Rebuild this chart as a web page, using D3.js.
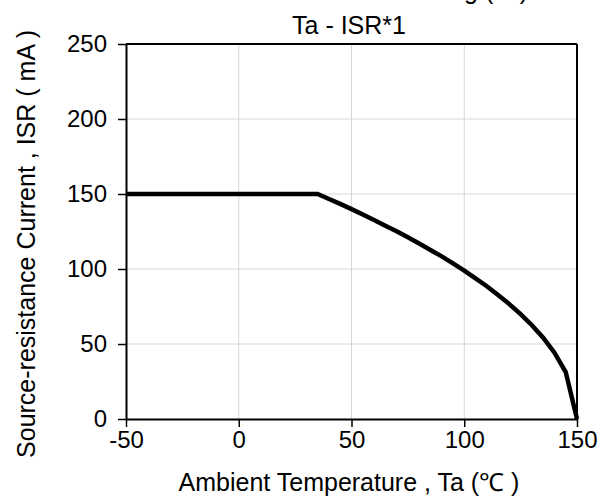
<!DOCTYPE html>
<html>
<head>
<meta charset="utf-8">
<script src="https://cdn.jsdelivr.net/npm/d3@7"></script>
<style>
  body { margin: 0; background: #fff; }
  svg { display: block; font-family: "Liberation Sans", Arial, sans-serif; }
</style>
</head>
<body>
<div id="app"></div>
<script>
// data
var temps = [-50, 35, 40, 45, 50, 55, 60, 65, 70, 75, 80, 85, 90, 95, 100, 105, 110, 115, 120, 125, 130, 135, 140, 145, 150];
var isr = [150, 150, 146.7, 143.4, 139.9, 136.3, 132.7, 128.9, 125.1, 121.1, 117, 112.7, 108.4, 103.7, 98.9, 93.8, 88.5, 82.7, 76.6, 69.9, 62.5, 54.2, 44.2, 31.3, 0];
var xTicks = [-50, 0, 50, 100, 150];
var yTicks = [0, 50, 100, 150, 200, 250];

var width = 614, height = 500;
var margin = {top: 44, right: 37, bottom: 81, left: 126};
var w = width - margin.left - margin.right;
var h = height - margin.top - margin.bottom;

var svg = d3.select("#app").append("svg")
  .attr("width", width)
  .attr("height", height);

var g = svg.append("g")
  .attr("transform", "translate(" + margin.left + "," + margin.top + ")");

var x = d3.scaleLinear().domain([-50, 150]).range([0, w]);
var y = d3.scaleLinear().domain([0, 250]).range([h, 0]);

// grid
g.append("g").selectAll("line")
  .data(xTicks.slice(1, -1))
  .join("line")
  .attr("x1", d => x(d)).attr("x2", d => x(d))
  .attr("y1", 0).attr("y2", h)
  .attr("stroke", "#d6d6d6").attr("stroke-width", 1);

g.append("g").selectAll("line")
  .data(yTicks.slice(1, -1))
  .join("line")
  .attr("x1", 0).attr("x2", w)
  .attr("y1", d => y(d)).attr("y2", d => y(d))
  .attr("stroke", "#d6d6d6").attr("stroke-width", 1);

// axes
var xAxis = g.append("g")
  .attr("transform", "translate(0," + h + ")")
  .call(d3.axisBottom(x).tickValues(xTicks).tickFormat(d => String(d))
    .tickSize(8).tickPadding(4).tickSizeOuter(0));
var yAxis = g.append("g")
  .call(d3.axisLeft(y).tickValues(yTicks).tickFormat(d => String(d))
    .tickSize(8).tickPadding(11).tickSizeOuter(0));

[xAxis, yAxis].forEach(function(a) {
  a.select(".domain").attr("stroke", "#000").attr("stroke-width", 2);
  a.selectAll(".tick line").attr("stroke", "#000").attr("stroke-width", 1.5);
  a.selectAll(".tick text")
    .attr("fill", "#000")
    .style("font-size", "24px")
    .style("font-family", "Liberation Sans, Arial, sans-serif");
});

// top and right frame
g.append("line").attr("x1", 0).attr("x2", w).attr("y1", 0).attr("y2", 0)
  .attr("stroke", "#000").attr("stroke-width", 2);
g.append("line").attr("x1", w).attr("x2", w).attr("y1", 0).attr("y2", h)
  .attr("stroke", "#000").attr("stroke-width", 2);

// curve
var line = d3.line()
  .x((d, i) => x(temps[i]))
  .y((d, i) => y(isr[i]));

g.append("path")
  .datum(isr)
  .attr("d", line)
  .attr("fill", "none")
  .attr("stroke", "#000")
  .attr("stroke-width", 4.5)
  .attr("stroke-linejoin", "miter");

// titles
svg.append("text")
  .attr("x", 349)
  .attr("y", 34)
  .attr("text-anchor", "middle")
  .style("font-size", "25px")
  .text("Ta - ISR*1");

svg.append("text")
  .attr("x", 528)
  .attr("y", -1)
  .attr("text-anchor", "end")
  .style("font-size", "25px")
  .text("Allowable derating (Ta)");

svg.append("text")
  .attr("x", 349)
  .attr("y", 491)
  .attr("text-anchor", "middle")
  .style("font-size", "25px")
  .text("Ambient Temperature , Ta (\u2103 )");

svg.append("text")
  .attr("transform", "translate(35,244) rotate(-90)")
  .attr("text-anchor", "middle")
  .style("font-size", "25px")
  .text("Source-resistance Current , ISR ( mA )");
</script>
</body>
</html>
